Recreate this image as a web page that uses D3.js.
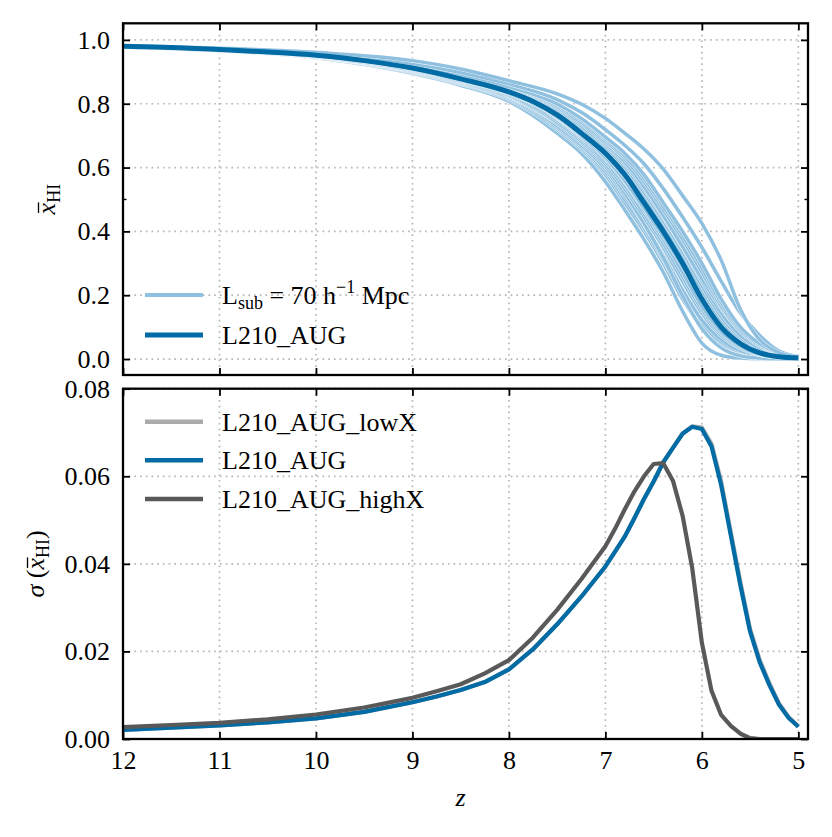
<!DOCTYPE html>
<html>
<head>
<script src="https://d3js.org/d3.v7.min.js"></script>
<style>
    body { margin: 0; background: #fff; }
    text { font-family: "Liberation Serif", "DejaVu Serif", serif; }
</style>
</head>
<body>
<svg id="chart"></svg>
<script>
// ---- data ----
const xTicks = [12, 11, 10, 9, 8, 7, 6, 5];
const topYTicks = [0.0, 0.2, 0.4, 0.6, 0.8, 1.0];
const topMinorTicks = [0.5];
const botYTicks = [0.00, 0.02, 0.04, 0.06, 0.08];

// mean neutral fraction of the full box
const zMean = [12, 11.5, 11, 10.5, 10, 9.5, 9, 8.5, 8, 7.75, 7.5, 7.25, 7, 6.8, 6.6, 6.4, 6.2, 6.0, 5.8, 5.6, 5.4, 5.2, 5.0];
const xhiMean = [0.980, 0.976, 0.970, 0.962, 0.952, 0.935, 0.912, 0.878, 0.837, 0.807, 0.765, 0.708, 0.645, 0.578, 0.490, 0.400, 0.300, 0.188, 0.100, 0.048, 0.019, 0.007, 0.003];

// sub-box curves (L_sub = 70 Mpc/h)
const zSub = [12, 11, 10, 9, 8.5, 8, 7.5, 7.25, 7, 6.8, 6.6, 6.4, 6.2, 6.0, 5.8, 5.6, 5.4, 5.2, 5.0];
const subCurves = [
    [0.978, 0.966, 0.944, 0.895, 0.858, 0.807, 0.708, 0.645, 0.556, 0.468, 0.375, 0.272, 0.150, 0.050, 0.012, 0.003, 0.001, 0.0005, 0.0003],
    [0.978, 0.967, 0.945, 0.898, 0.862, 0.813, 0.719, 0.658, 0.578, 0.490, 0.400, 0.300, 0.188, 0.100, 0.048, 0.019, 0.007, 0.003, 0.001],
    [0.978, 0.967, 0.946, 0.900, 0.864, 0.816, 0.725, 0.664, 0.586, 0.501, 0.411, 0.312, 0.202, 0.111, 0.054, 0.022, 0.008, 0.0035, 0.001],
    [0.979, 0.968, 0.947, 0.902, 0.866, 0.819, 0.731, 0.670, 0.595, 0.512, 0.422, 0.325, 0.216, 0.122, 0.061, 0.026, 0.010, 0.004, 0.0015],
    [0.979, 0.968, 0.948, 0.904, 0.868, 0.822, 0.738, 0.678, 0.604, 0.520, 0.425, 0.318, 0.198, 0.095, 0.035, 0.010, 0.003, 0.001, 0.0005],
    [0.979, 0.968, 0.949, 0.905, 0.870, 0.825, 0.742, 0.683, 0.612, 0.534, 0.445, 0.350, 0.244, 0.144, 0.074, 0.034, 0.013, 0.005, 0.002],
    [0.979, 0.968, 0.949, 0.907, 0.872, 0.828, 0.748, 0.689, 0.620, 0.545, 0.456, 0.362, 0.258, 0.155, 0.080, 0.037, 0.014, 0.0055, 0.002],
    [0.980, 0.969, 0.950, 0.909, 0.874, 0.831, 0.754, 0.695, 0.628, 0.556, 0.468, 0.375, 0.272, 0.166, 0.087, 0.041, 0.016, 0.006, 0.0025],
    [0.980, 0.969, 0.951, 0.911, 0.877, 0.835, 0.758, 0.699, 0.632, 0.560, 0.474, 0.386, 0.290, 0.190, 0.108, 0.052, 0.021, 0.008, 0.003],
    [0.980, 0.970, 0.951, 0.910, 0.876, 0.834, 0.760, 0.703, 0.640, 0.572, 0.492, 0.410, 0.322, 0.228, 0.140, 0.075, 0.035, 0.014, 0.005],
    [0.980, 0.970, 0.952, 0.912, 0.878, 0.837, 0.765, 0.708, 0.645, 0.578, 0.490, 0.400, 0.300, 0.188, 0.100, 0.048, 0.019, 0.007, 0.003],
    [0.980, 0.971, 0.953, 0.914, 0.881, 0.841, 0.773, 0.719, 0.658, 0.595, 0.512, 0.422, 0.325, 0.216, 0.122, 0.061, 0.026, 0.010, 0.004],
    [0.980, 0.971, 0.953, 0.915, 0.883, 0.843, 0.777, 0.725, 0.664, 0.603, 0.523, 0.433, 0.337, 0.230, 0.133, 0.067, 0.030, 0.011, 0.0045],
    [0.980, 0.971, 0.954, 0.917, 0.885, 0.845, 0.782, 0.731, 0.670, 0.612, 0.534, 0.445, 0.350, 0.244, 0.144, 0.074, 0.034, 0.013, 0.005],
    [0.981, 0.972, 0.954, 0.918, 0.887, 0.847, 0.786, 0.737, 0.676, 0.618, 0.541, 0.450, 0.352, 0.252, 0.160, 0.088, 0.042, 0.016, 0.006],
    [0.981, 0.972, 0.955, 0.919, 0.888, 0.849, 0.790, 0.742, 0.683, 0.628, 0.556, 0.468, 0.375, 0.272, 0.166, 0.087, 0.041, 0.016, 0.006],
    [0.981, 0.972, 0.955, 0.920, 0.890, 0.851, 0.794, 0.748, 0.689, 0.636, 0.567, 0.479, 0.388, 0.286, 0.177, 0.093, 0.044, 0.017, 0.006],
    [0.981, 0.972, 0.956, 0.921, 0.892, 0.853, 0.799, 0.754, 0.695, 0.645, 0.578, 0.490, 0.400, 0.300, 0.188, 0.100, 0.048, 0.019, 0.007],
    [0.981, 0.973, 0.958, 0.926, 0.898, 0.862, 0.813, 0.773, 0.719, 0.670, 0.612, 0.534, 0.445, 0.350, 0.244, 0.144, 0.074, 0.025, 0.008],
    [0.982, 0.974, 0.961, 0.935, 0.909, 0.872, 0.831, 0.799, 0.754, 0.708, 0.658, 0.595, 0.512, 0.425, 0.310, 0.155, 0.060, 0.020, 0.006]
];

// scatter of the sub-box neutral fraction
const zSigma = [12, 11.5, 11, 10.5, 10, 9.5, 9, 8.75, 8.5, 8.25, 8, 7.75, 7.5, 7.25, 7, 6.9, 6.8, 6.7, 6.6, 6.5, 6.4, 6.3, 6.2, 6.1, 6.0, 5.9, 5.8, 5.7, 5.6, 5.5, 5.4, 5.3, 5.2, 5.1, 5.0];
const sigmaLowX = [0.0021, 0.0026, 0.0031, 0.0038, 0.0047, 0.0062, 0.0084, 0.0097, 0.0112, 0.0130, 0.0159, 0.0205, 0.0262, 0.0325, 0.0394, 0.0428, 0.0462, 0.0504, 0.0548, 0.0588, 0.0632, 0.0665, 0.0698, 0.0714, 0.0711, 0.0674, 0.0588, 0.0472, 0.0357, 0.0251, 0.0180, 0.0127, 0.0081, 0.0050, 0.0029];
const sigmaAug = [0.0021, 0.0026, 0.0031, 0.0038, 0.0047, 0.0062, 0.0084, 0.0097, 0.0112, 0.0130, 0.0159, 0.0205, 0.0262, 0.0325, 0.0394, 0.0428, 0.0462, 0.0504, 0.0548, 0.0588, 0.0632, 0.0665, 0.0697, 0.0713, 0.0708, 0.0668, 0.0580, 0.0465, 0.0350, 0.0245, 0.0175, 0.0123, 0.0078, 0.0048, 0.0028];
const sigmaHighX = [0.0027, 0.0032, 0.0037, 0.0045, 0.0056, 0.0072, 0.0094, 0.0109, 0.0125, 0.0150, 0.0180, 0.0232, 0.0295, 0.0365, 0.0440, 0.0480, 0.0524, 0.0565, 0.0600, 0.0628, 0.0630, 0.0590, 0.0510, 0.0390, 0.0220, 0.0110, 0.0055, 0.0030, 0.0012, 0.0002, 0.0, 0.0, 0.0, 0.0, 0.0];

// ---- layout ----
const svgWidth = 832, svgHeight = 837;
const left = 123, right = 808;
const topPanel = { top: 23.3, bottom: 375 };
const botPanel = { top: 388.7, bottom: 739 };

const darkBlue = "#006ba4", lightBlue = "#8fc0df", lowGray = "#ababab", highGray = "#595959";
const gridColor = "#b8b8b8";
const serif = "Liberation Serif, DejaVu Serif, serif";

const svg = d3.select("#chart")
    .attr("width", svgWidth)
    .attr("height", svgHeight);

const x = d3.scaleLinear().domain([12, 4.9]).range([left, right]);
const yTop = d3.scaleLinear().domain([-0.05, 1.052]).range([topPanel.bottom, topPanel.top]);
const yBot = d3.scaleLinear().domain([0, 0.08]).range([botPanel.bottom, botPanel.top]);

function panel(name, p, y, yTicks, yFmt, showX) {
    const g = svg.append("g");

    svg.append("clipPath").attr("id", "clip-" + name)
        .append("rect")
        .attr("x", left).attr("y", p.top)
        .attr("width", right - left).attr("height", p.bottom - p.top);

    // dotted grid
    g.selectAll(".vgrid").data(xTicks).join("line")
        .attr("x1", d => x(d)).attr("x2", d => x(d))
        .attr("y1", p.top).attr("y2", p.bottom)
        .attr("stroke", gridColor).attr("stroke-width", 1.7)
        .attr("stroke-dasharray", "1.7,4");
    g.selectAll(".hgrid").data(yTicks).join("line")
        .attr("x1", left).attr("x2", right)
        .attr("y1", d => y(d)).attr("y2", d => y(d))
        .attr("stroke", gridColor).attr("stroke-width", 1.7)
        .attr("stroke-dasharray", "1.7,4");

    const plot = svg.append("g").attr("clip-path", `url(#clip-${name})`);

    // axes, ticks inward on all four sides
    const axB = svg.append("g").attr("transform", `translate(0,${p.bottom})`)
        .call(d3.axisBottom(x).tickValues(xTicks).tickSizeInner(-7).tickSizeOuter(0)
            .tickPadding(11.5).tickFormat(showX ? d3.format("d") : ""));
    const axT = svg.append("g").attr("transform", `translate(0,${p.top})`)
        .call(d3.axisTop(x).tickValues(xTicks).tickSizeInner(-7).tickSizeOuter(0).tickFormat(""));
    const axL = svg.append("g").attr("transform", `translate(${left},0)`)
        .call(d3.axisLeft(y).tickValues(yTicks).tickSizeInner(-7).tickSizeOuter(0)
            .tickPadding(13).tickFormat(yFmt));
    const axR = svg.append("g").attr("transform", `translate(${right},0)`)
        .call(d3.axisRight(y).tickValues(yTicks).tickSizeInner(-7).tickSizeOuter(0).tickFormat(""));

    [axB, axT, axL, axR].forEach(a => {
        a.attr("font-family", serif);
        a.select(".domain").remove();
        a.selectAll("line").attr("stroke", "#000").attr("stroke-width", 1.8);
        a.selectAll("text")
            .style("font-family", serif)
            .attr("font-size", 26)
            .attr("fill", "#000");
    });

    return plot;
}

const topPlot = panel("top", topPanel, yTop, topYTicks, d3.format(".1f"), false);
const botPlot = panel("bot", botPanel, yBot, botYTicks, d3.format(".2f"), true);

// minor tick at 0.5
topMinorTicks.forEach(v => {
    svg.append("line").attr("x1", left).attr("x2", left + 3.5)
        .attr("y1", yTop(v)).attr("y2", yTop(v)).attr("stroke", "#000").attr("stroke-width", 1.4);
    svg.append("line").attr("x1", right - 3.5).attr("x2", right)
        .attr("y1", yTop(v)).attr("y2", yTop(v)).attr("stroke", "#000").attr("stroke-width", 1.4);
});

// ---- top panel lines ----
const subLine = d3.line()
    .x((d, i) => x(zSub[i]))
    .y(d => yTop(d))
    .curve(d3.curveMonotoneX);

subCurves.forEach(c => {
    topPlot.append("path").datum(c)
        .attr("fill", "none").attr("stroke", "#fff").attr("stroke-width", 4.3)
        .attr("d", subLine);
    topPlot.append("path").datum(c)
        .attr("fill", "none").attr("stroke", lightBlue).attr("stroke-width", 3.5)
        .attr("d", subLine);
});

const meanLine = d3.line()
    .x((d, i) => x(zMean[i]))
    .y(d => yTop(d))
    .curve(d3.curveMonotoneX);

topPlot.append("path").datum(xhiMean)
    .attr("fill", "none").attr("stroke", darkBlue).attr("stroke-width", 5)
    .attr("d", meanLine);

// ---- bottom panel lines ----
const sigLine = d3.line()
    .x((d, i) => x(zSigma[i]))
    .y(d => yBot(d));

[[sigmaLowX, lowGray], [sigmaAug, darkBlue], [sigmaHighX, highGray]].forEach(([s, col]) => {
    botPlot.append("path").datum(s)
        .attr("fill", "none").attr("stroke", col).attr("stroke-width", 4.2)
        .attr("stroke-linejoin", "round")
        .attr("d", sigLine);
});

// ---- frames ----
[topPanel, botPanel].forEach(p => {
    svg.append("rect")
        .attr("x", left).attr("y", p.top)
        .attr("width", right - left).attr("height", p.bottom - p.top)
        .attr("fill", "none").attr("stroke", "#000").attr("stroke-width", 2.3);
});

// ---- legends ----
function legendLine(y, col, w) {
    svg.append("line").attr("x1", 145).attr("x2", 203)
        .attr("y1", y).attr("y2", y)
        .attr("stroke", col).attr("stroke-width", w);
}

legendLine(295, lightBlue, 3.8);
const t1 = svg.append("text").attr("x", 222).attr("y", 304).attr("font-size", 26);
t1.append("tspan").text("L");
t1.append("tspan").attr("font-size", 18).attr("dy", 5).text("sub");
t1.append("tspan").attr("dy", -5).text(" = 70 h");
t1.append("tspan").attr("font-size", 18).attr("dy", -11).text("\u22121");
t1.append("tspan").attr("dy", 11).text(" Mpc");

legendLine(335, darkBlue, 5.2);
svg.append("text").attr("x", 222).attr("y", 344).attr("font-size", 26).text("L210_AUG");

const botLegend = [["L210_AUG_lowX", lowGray], ["L210_AUG", darkBlue], ["L210_AUG_highX", highGray]];
const botLegendY = [421.7, 460.3, 499];
botLegend.forEach(([label, col], i) => {
    legendLine(botLegendY[i], col, 4.6);
    svg.append("text").attr("x", 222).attr("y", botLegendY[i] + 9).attr("font-size", 26).text(label);
});

// ---- axis labels ----
svg.append("text")
    .attr("x", x(8.5)).attr("y", 806)
    .attr("text-anchor", "middle")
    .attr("font-size", 26).attr("font-style", "italic")
    .text("z");

// x with an overbar and subscript HI
function xbarLabel(g) {
    g.append("tspan").attr("font-style", "italic").attr("class", "xbar").text("x");
    g.append("tspan").attr("font-size", 18).attr("dy", 5).text("HI");
}

const yl1 = svg.append("g")
    .attr("transform", `translate(55,${(topPanel.top + topPanel.bottom) / 2}) rotate(-90)`);
const yl1t = yl1.append("text").attr("text-anchor", "middle").attr("font-size", 26);
xbarLabel(yl1t);

const yl2 = svg.append("g")
    .attr("transform", `translate(44,${(botPanel.top + botPanel.bottom) / 2}) rotate(-90)`);
const yl2t = yl2.append("text").attr("text-anchor", "middle").attr("font-size", 26);
yl2t.append("tspan").attr("font-style", "italic").text("\u03c3");
yl2t.append("tspan").text(" (");
xbarLabel(yl2t);
yl2t.append("tspan").attr("dy", -5).text(")");

[[yl1, yl1t], [yl2, yl2t]].forEach(([g, t]) => {
    const ext = t.select(".xbar").node().getExtentOfChar(0);
    g.append("line")
        .attr("x1", ext.x + 1.5).attr("x2", ext.x + ext.width + 0.5)
        .attr("y1", -16.5).attr("y2", -16.5)
        .attr("stroke", "#000").attr("stroke-width", 1.3);
});
</script>
</body>
</html>
